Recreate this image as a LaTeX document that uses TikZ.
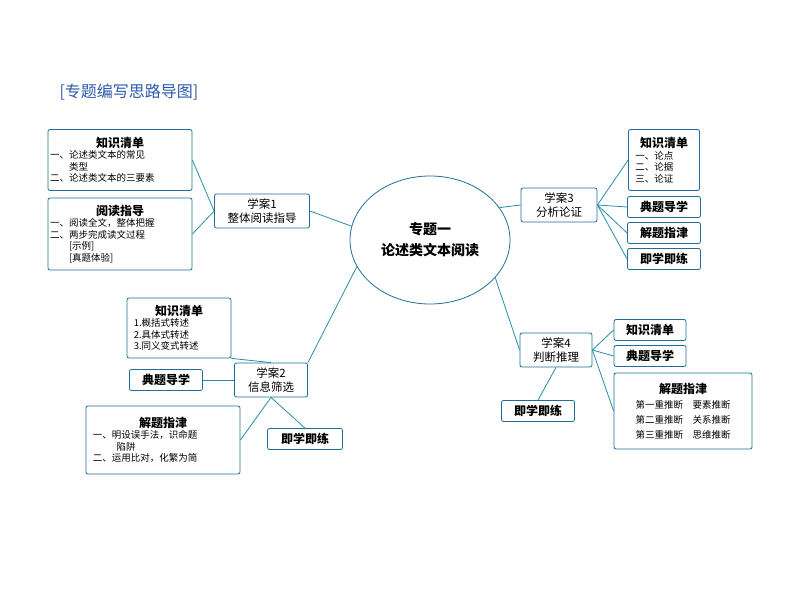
\documentclass[tikz,border=0pt]{standalone}
\usepackage{fontspec}
\setmainfont{Noto Sans CJK SC}
\usetikzlibrary{positioning,shapes.geometric}
\definecolor{linecol}{RGB}{40,140,170}
\definecolor{boxcol}{RGB}{30,110,150}
\definecolor{titlecol}{RGB}{40,90,170}

\begin{document}
\begin{tikzpicture}[x=1pt, y=-1pt,
        box/.style={draw=boxcol, thick, rounded corners=2pt, fill=white, inner sep=2pt, font=\fontsize{9.5}{11.5}\selectfont},
        tag_box/.style={box, font=\fontsize{12}{14}\selectfont\bfseries, minimum height=21pt, minimum width=72pt},
        case_box/.style={box, align=center, font=\fontsize{11.5}{14}\selectfont, minimum height=34pt},
        link/.style={draw=linecol, thick}
        ]
            \useasboundingbox (0,0) rectangle (794,596);
            % title
            \node[anchor=west, text=titlecol, font=\fontsize{16}{18}\selectfont] (title) at (56,92) {[专题编写思路导图]};

            % centre
            \node[ellipse, draw=boxcol, thick, minimum width=160pt, minimum height=128pt, align=center, font=\fontsize{14}{21}\selectfont\bfseries] (topic) at (430,240) {专题一\\论述类文本阅读};

            % case 1
            \node[case_box, minimum width=95pt] (case_1) at (262,211) {学案1\\整体阅读指导};
            \node[box, text width=140pt, minimum height=61pt] (know_1) at (120,160)
                {{\centering\bfseries\fontsize{12}{14}\selectfont 知识清单\par}
                 一、论述类文本的常见\\\hspace*{2em}类型\\二、论述类文本的三要素};
            \node[box, text width=140pt, minimum height=72pt] (read_1) at (120,234)
                {{\centering\bfseries\fontsize{12}{14}\selectfont 阅读指导\par}
                 一、阅读全文，整体把握\\二、两步完成读文过程\\\hspace*{2em}[示例]\\\hspace*{2em}[真题体验]};

            % case 2
            \node[case_box, minimum width=73pt] (case_2) at (271,380) {学案2\\信息筛选};
            \node[box, text width=100pt, minimum height=60pt] (know_2) at (179,328)
                {{\centering\bfseries\fontsize{12}{14}\selectfont 知识清单\par}
                 \hspace*{0.5em}1.概括式转述\\\hspace*{0.5em}2.具体式转述\\\hspace*{0.5em}3.同义变式转述};
            \node[tag_box, minimum width=73pt] (exam_2) at (166,380) {典题导学};
            \node[box, text width=150pt, minimum height=68pt] (rule_2) at (163,440)
                {{\centering\bfseries\fontsize{12}{14}\selectfont 解题指津\par}
                 \hspace*{0.5em}一、明设误手法，识命题\\\hspace*{3em}陷阱\\\hspace*{0.5em}二、运用比对，化繁为简};
            \node[tag_box, minimum width=75pt] (drill_2) at (305,439) {即学即练};

            % case 3
            \node[case_box, minimum width=76pt] (case_3) at (559,205) {学案3\\分析论证};
            \node[box, text width=67pt, minimum height=61pt] (know_3) at (664,160)
                {{\centering\bfseries\fontsize{12}{14}\selectfont 知识清单\par}
                 \hspace*{0.5em}一、论点\\\hspace*{0.5em}二、论据\\\hspace*{0.5em}三、论证};
            \node[tag_box, minimum width=73pt] (exam_3) at (664,207) {典题导学};
            \node[tag_box, minimum width=73pt] (rule_3) at (664,233) {解题指津};
            \node[tag_box, minimum width=73pt] (drill_3) at (664,259) {即学即练};

            % case 4
            \node[case_box, minimum width=72pt] (case_4) at (556,350) {学案4\\判断推理};
            \node[tag_box, minimum width=72pt] (know_4) at (650,330) {知识清单};
            \node[tag_box, minimum width=72pt] (exam_4) at (650,356) {典题导学};
            \node[box, minimum width=138pt, minimum height=76pt, align=center, font=\fontsize{9.5}{15}\selectfont] (rule_4) at (683,411)
                {{\bfseries\fontsize{12}{14}\selectfont 解题指津}\\第一重推断\quad 要素推断\\第二重推断\quad 关系推断\\第三重推断\quad 思维推断};
            \node[tag_box, minimum width=73pt] (drill_4) at (538,411) {即学即练};

            % Lines
            \draw[link] (case_1.west) -- (know_1.east);
            \draw[link] (case_1.west) -- (read_1.east);
            \draw[link] (case_1.east) -- (topic.170);
            \draw[link] (case_2.north east) -- (topic.200);
            \draw[link] (case_2.north) -- (know_2.south east);
            \draw[link] (case_2.west) -- (exam_2.east);
            \draw[link] (case_2.south) -- (rule_2.east);
            \draw[link] (case_2.south) -- (drill_2.north);
            \draw[link] (topic.25) -- (case_3.west);
            \draw[link] (topic.330) -- (case_4.west);
            \draw[link] (case_3.east) -- (know_3.west);
            \draw[link] (case_3.east) -- (exam_3.west);
            \draw[link] (case_3.east) -- (rule_3.west);
            \draw[link] (case_3.east) -- (drill_3.west);
            \draw[link] (case_4.east) -- (know_4.west);
            \draw[link] (case_4.east) -- (exam_4.west);
            \draw[link] (case_4.east) -- (rule_4.west);
            \draw[link] (case_4.south) -- (drill_4.north);
        \end{tikzpicture}
\end{document}
